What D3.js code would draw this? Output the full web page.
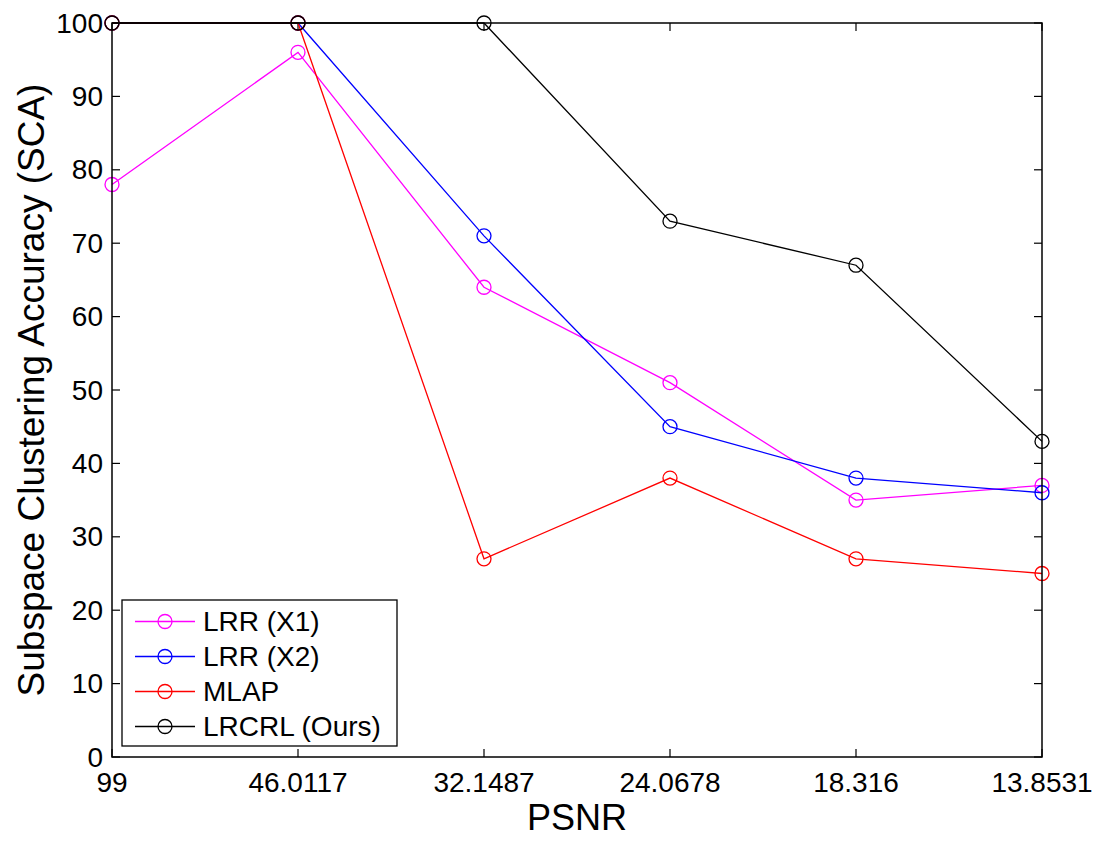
<!DOCTYPE html>
<html>
<head>
<meta charset="utf-8">
<script src="https://cdn.jsdelivr.net/npm/d3@7"></script>
<style>
  html, body { margin: 0; padding: 0; background: #fff; }
  svg { display: block; }
  text { font-family: "Liberation Sans", Arial, Helvetica, sans-serif; fill: #000; }
</style>
</head>
<body>
<script>
// ---- data ----
const categories = ["99", "46.0117", "32.1487", "24.0678", "18.316", "13.8531"];
const seriesNames = ["LRR (X1)", "LRR (X2)", "MLAP", "LRCRL (Ours)"];
const seriesColors = ["#ff00ff", "#0000ff", "#ff0000", "#000000"];
const lrrX1 = [78, 96, 64, 51, 35, 37];
const lrrX2 = [100, 100, 71, 45, 38, 36];
const mlap = [100, 100, 27, 38, 27, 25];
const lrcrl = [100, 100, 100, 73, 67, 43];
const yTicks = [0, 10, 20, 30, 40, 50, 60, 70, 80, 90, 100];
const xTitle = "PSNR";
const yTitle = "Subspace Clustering Accuracy (SCA)";

const seriesValues = [lrrX1, lrrX2, mlap, lrcrl];

// ---- layout ----
const W = 1103, H = 842;
const pL = 112, pR = 1042, pT = 23, pB = 757;

const svg = d3.select("body").append("svg").attr("width", W).attr("height", H);

const x = d3.scalePoint().domain(categories).range([pL, pR]);
const y = d3.scaleLinear().domain([0, 100]).range([pB, pT]);

// ticks on all four sides (inward)
const tickLen = 8;
const g = svg.append("g");
g.append("g").selectAll("line").data(yTicks).join("line")
  .attr("x1", pL).attr("x2", pL + tickLen)
  .attr("y1", d => y(d)).attr("y2", d => y(d))
  .attr("stroke", "#000").attr("stroke-width", 1.2);
g.append("g").selectAll("line").data(yTicks).join("line")
  .attr("x1", pR).attr("x2", pR - tickLen)
  .attr("y1", d => y(d)).attr("y2", d => y(d))
  .attr("stroke", "#000").attr("stroke-width", 1.2);
g.append("g").selectAll("line").data(categories).join("line")
  .attr("x1", d => x(d)).attr("x2", d => x(d))
  .attr("y1", pB).attr("y2", pB - tickLen)
  .attr("stroke", "#000").attr("stroke-width", 1.2);
g.append("g").selectAll("line").data(categories).join("line")
  .attr("x1", d => x(d)).attr("x2", d => x(d))
  .attr("y1", pT).attr("y2", pT + tickLen)
  .attr("stroke", "#000").attr("stroke-width", 1.2);

// tick labels
svg.append("g").selectAll("text").data(yTicks).join("text")
  .attr("x", pL - 9).attr("y", d => y(d))
  .attr("text-anchor", "end").attr("dominant-baseline", "central")
  .attr("font-size", 28).text(d => d);
svg.append("g").selectAll("text").data(categories).join("text")
  .attr("x", d => x(d)).attr("y", pB + 35)
  .attr("text-anchor", "middle")
  .attr("font-size", 28).text(d => d);

// axis titles
svg.append("text").attr("x", (pL + pR) / 2).attr("y", 830)
  .attr("text-anchor", "middle").attr("font-size", 36).text(xTitle);
svg.append("text")
  .attr("transform", `translate(44,${(pT + pB) / 2}) rotate(-90)`)
  .attr("text-anchor", "middle").attr("font-size", 37).text(yTitle);

// series
const line = d3.line().x((d, i) => x(categories[i])).y(d => y(d));
seriesValues.forEach((vals, si) => {
  const sg = svg.append("g");
  sg.append("path").datum(vals).attr("d", line)
    .attr("fill", "none").attr("stroke", seriesColors[si]).attr("stroke-width", 1.3);
  sg.selectAll("circle").data(vals).join("circle")
    .attr("cx", (d, i) => x(categories[i])).attr("cy", d => y(d)).attr("r", 7)
    .attr("fill", "none").attr("stroke", seriesColors[si]).attr("stroke-width", 1.3);
});

// box
svg.append("rect").attr("x", pL).attr("y", pT)
  .attr("width", pR - pL).attr("height", pB - pT)
  .attr("fill", "none").attr("stroke", "#000").attr("stroke-width", 1.5);

// legend
const lg = svg.append("g");
lg.append("rect").attr("x", 122).attr("y", 600).attr("width", 275).attr("height", 146)
  .attr("fill", "#fff").attr("stroke", "#000").attr("stroke-width", 1.3);
seriesNames.forEach((name, i) => {
  const cy = 621.5 + i * 35;
  lg.append("line").attr("x1", 135).attr("x2", 195).attr("y1", cy).attr("y2", cy)
    .attr("stroke", seriesColors[i]).attr("stroke-width", 1.3);
  lg.append("circle").attr("cx", 165).attr("cy", cy).attr("r", 7)
    .attr("fill", "none").attr("stroke", seriesColors[i]).attr("stroke-width", 1.3);
  lg.append("text").attr("x", 203).attr("y", cy).attr("dominant-baseline", "central")
    .attr("font-size", 28).text(name);
});
</script>
</body>
</html>
